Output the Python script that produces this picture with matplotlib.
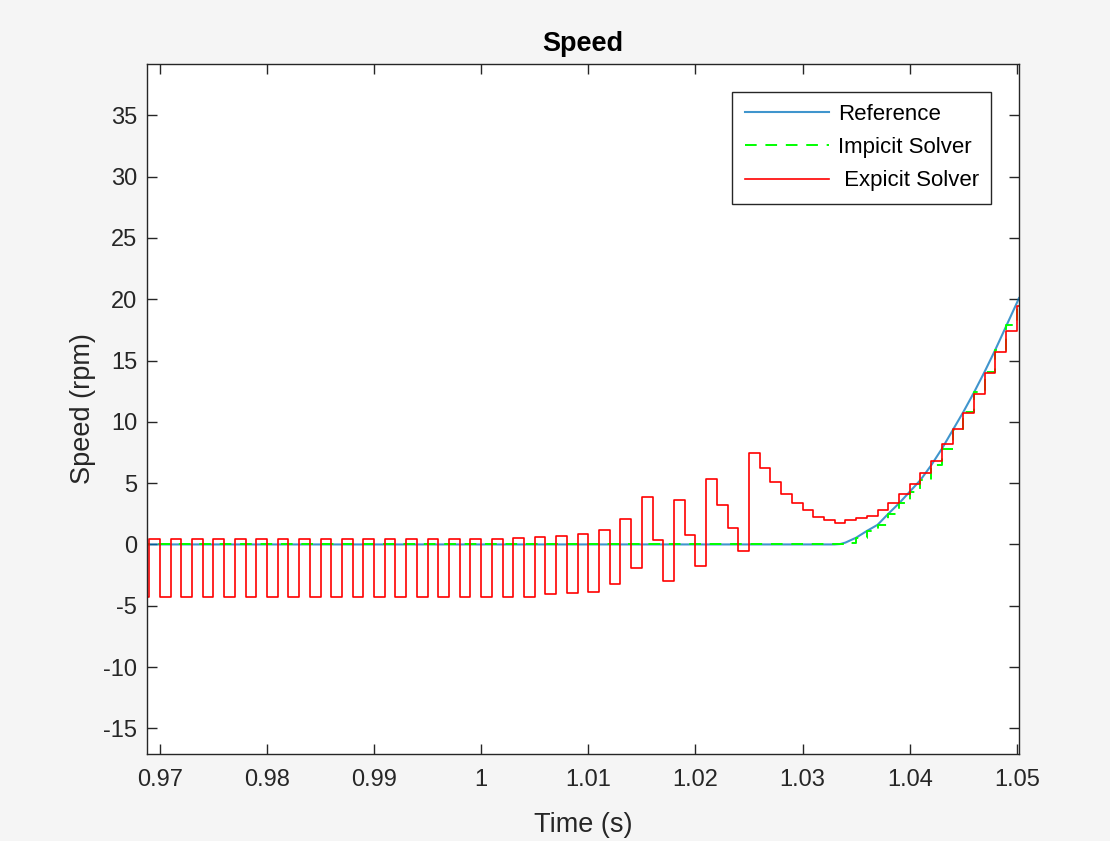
# ================================
# SPEED: REFERENCE VS SOLVERS
# ================================

import numpy as np
import matplotlib
matplotlib.use("Agg")
import matplotlib.pyplot as plt

plt.rcParams['font.family'] = ['Liberation Sans', 'DejaVu Sans']
plt.rcParams['axes.unicode_minus'] = False


# ================================
# DATA
# ================================

dt = 0.001

# explicit solver samples, one every dt starting at t = 0.968 (zero-order hold)
explicit_t0 = 0.968
explicit_v = [
    -4.3, 0.45, -4.3, 0.45, -4.3, 0.45, -4.3, 0.45, -4.3, 0.45,   # 0.968 - 0.977
    -4.3, 0.45, -4.3, 0.45, -4.3, 0.45, -4.3, 0.45, -4.3, 0.45,   # 0.978 - 0.987
    -4.3, 0.45, -4.3, 0.45, -4.3, 0.45, -4.3, 0.45, -4.3, 0.45,   # 0.988 - 0.997
    -4.3, 0.45, -4.3, 0.45, -4.27, 0.5, -4.25, 0.63, -4.05, 0.7,  # 0.998 - 1.007
    -4.0, 0.82, -3.9, 1.17, -3.26, 2.09, -1.96, 3.89, 0.35, -2.99,  # 1.008 - 1.017
    3.59, 0.79, -1.77, 5.36, 3.24, 1.33, -0.54, 7.48, 6.2, 5.08,  # 1.018 - 1.027
    4.08, 3.4, 2.8, 2.26, 1.96, 1.77, 1.98, 2.12, 2.31, 2.77,     # 1.028 - 1.037
    3.4, 4.08, 4.89, 5.85, 6.8, 8.16, 9.44, 10.74, 12.29, 14.0,   # 1.038 - 1.047
    15.69, 17.45, 19.44,                                          # 1.048 - 1.050
]

# implicit solver samples, one every dt starting at t = 0.968
implicit_t0 = 0.968
implicit_flat = 66          # samples sitting at 0 (0.968 - 1.033)
implicit_rise = [0.15, 0.55, 1.1, 1.6, 2.5, 3.35, 4.3, 5.25, 6.45,
                 7.8, 9.3, 10.8, 12.4, 14.1, 15.9, 17.9, 19.7]

# reference curve
ref_t = [0.968, 1.033, 1.0335, 1.034, 1.035, 1.036, 1.037, 1.038, 1.039,
         1.040, 1.041, 1.042, 1.043, 1.044, 1.045, 1.046, 1.047, 1.048,
         1.049, 1.050, 1.0502]
ref_v = [0.0, 0.0, 0.03, 0.15, 0.55, 1.1, 1.6, 2.5, 3.35,
         4.3, 5.25, 6.45, 7.8, 9.3, 10.8, 12.4, 14.1, 15.9,
         17.8, 19.7, 20.1]

x_ticks = [0.97, 0.98, 0.99, 1.00, 1.01, 1.02, 1.03, 1.04, 1.05]
x_tick_labels = ['0.97', '0.98', '0.99', '1', '1.01', '1.02', '1.03', '1.04', '1.05']
y_ticks = [-15, -10, -5, 0, 5, 10, 15, 20, 25, 30, 35]


# ================================
# BUILD STEP ARRAYS
# ================================

exp_v = np.array(explicit_v)
exp_t = np.round(explicit_t0 + dt * np.arange(len(exp_v)), 4)
exp_t = np.append(exp_t, exp_t[-1] + dt)
exp_v = np.append(exp_v, exp_v[-1])

imp_v = np.concatenate([np.zeros(implicit_flat), implicit_rise])
imp_t = np.round(implicit_t0 + dt * np.arange(len(imp_v)), 4)
imp_t = np.append(imp_t, imp_t[-1] + dt)
imp_v = np.append(imp_v, imp_v[-1])


# ================================
# PLOT
# ================================

text_col = '#262626'

fig = plt.figure(figsize=(11.10, 8.41), dpi=100, facecolor='#f5f5f5')
ax = fig.add_axes([0.1324, 0.1034, 0.7856, 0.8206])
ax.set_facecolor('white')

ax.plot(ref_t, ref_v, color='#0072BD', lw=1.5, alpha=0.75, label='Reference')
ax.step(imp_t, imp_v, where='post', color='#00ff00', lw=1.4,
        linestyle=(0, (6, 4.5)), label='Impicit Solver')
ax.step(exp_t, exp_v, where='post', color='#ff0000', lw=1.2,
        label=' Expicit Solver')

ax.set_xlim(0.9688, 1.0502)
ax.set_ylim(-17.1, 39.2)

ax.set_xticks(x_ticks)
ax.set_xticklabels(x_tick_labels)
ax.set_yticks(y_ticks)
ax.tick_params(direction='in', length=7, width=1, colors=text_col,
               labelsize=17, top=True, right=True)
ax.tick_params(axis='x', pad=11)
ax.tick_params(axis='y', pad=7)
for s in ax.spines.values():
    s.set_color(text_col)
    s.set_linewidth(1)

ax.set_title('Speed', fontsize=19.5, fontweight='bold', color='black', pad=9)
ax.set_xlabel('Time (s)', fontsize=19.5, color=text_col, labelpad=15)
ax.set_ylabel('Speed (rpm)', fontsize=19.5, color=text_col, labelpad=5)

leg = ax.legend(loc='upper right', fontsize=16, frameon=True, fancybox=False,
                edgecolor=text_col, framealpha=1, handlelength=3.8,
                borderaxespad=1.25, labelspacing=0.55, handletextpad=0.4,
                borderpad=0.55)
leg.get_frame().set_linewidth(1)

fig.savefig('out.png', dpi=100, facecolor=fig.get_facecolor())
